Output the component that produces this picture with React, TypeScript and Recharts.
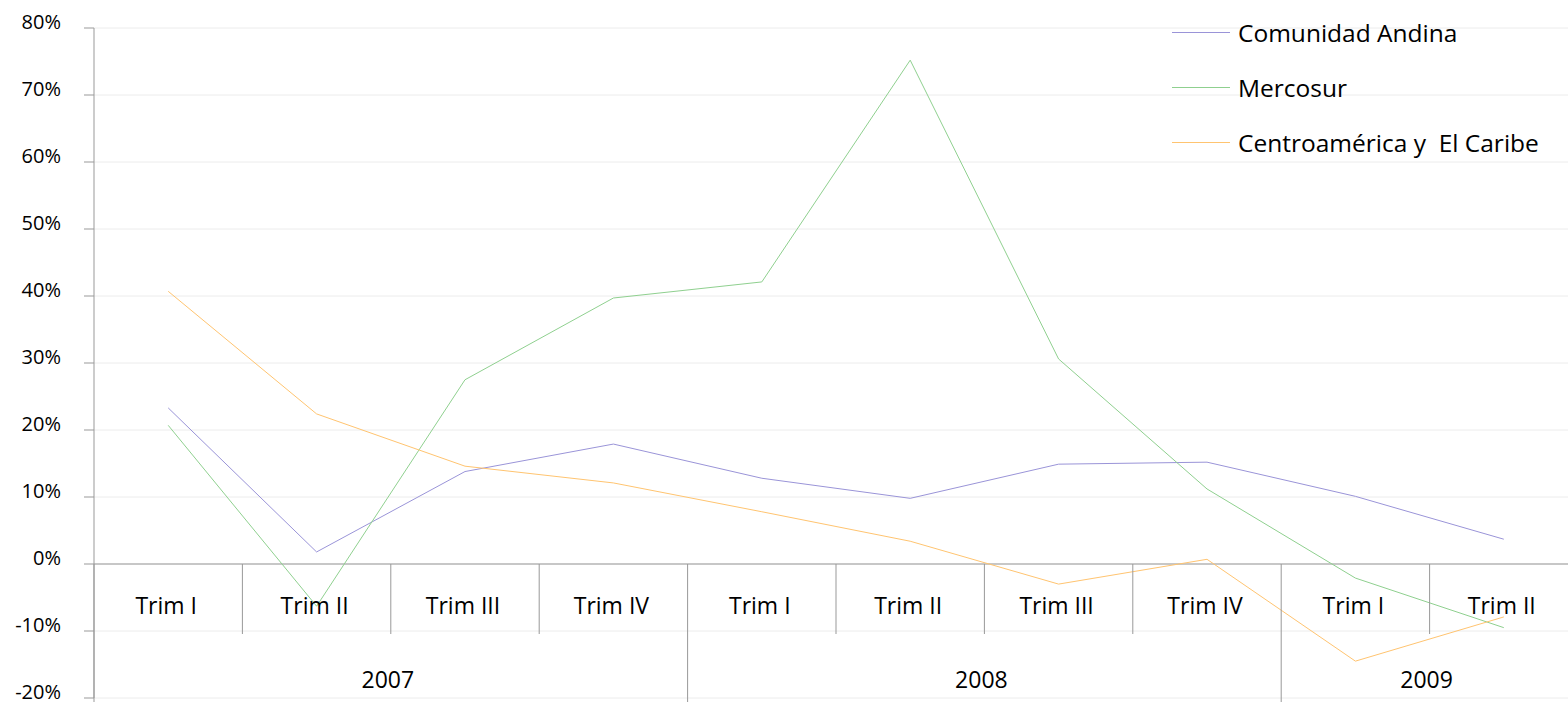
import { LineChart, Line, XAxis, YAxis, CartesianGrid, ReferenceLine } from 'recharts';

const quarters = ['Trim I', 'Trim II', 'Trim III', 'Trim IV', 'Trim I', 'Trim II', 'Trim III', 'Trim IV', 'Trim I', 'Trim II'];
const years = ['2007', '2008', '2009'];
const yearSpan = [4, 4, 2];

const andina = [23.3, 1.8, 13.8, 17.9, 12.8, 9.8, 14.9, 15.2, 10.1, 3.7];
const mercosur = [20.7, -6.3, 27.5, 39.7, 42.1, 75.2, 30.6, 11.2, -2.1, -9.5];
const centro = [40.7, 22.4, 14.6, 12.1, 7.8, 3.4, -3.0, 0.7, -14.5, -7.9];

const yTicks = [-20, -10, 0, 10, 20, 30, 40, 50, 60, 70, 80];

const series = [
  { key: 'andina', name: 'Comunidad Andina', color: '#9a94d8' },
  { key: 'mercosur', name: 'Mercosur', color: '#8fd08f' },
  { key: 'centro', name: 'Centroamérica y  El Caribe', color: '#ffc470' },
];

const data = quarters.map((q, i) => ({
  id: i,
  q,
  andina: andina[i],
  mercosur: mercosur[i],
  centro: centro[i],
}));

// chart geometry
const W = 1578;
const H = 702;
const LEFT = 94;
const TOP = 28;
const BOTTOM = 3;
const XAXIS_H = 1;
const PLOT_W = W - LEFT;
const PLOT_H = H - TOP - BOTTOM - XAXIS_H;
const BAND = PLOT_W / quarters.length;
const ZERO_Y = TOP + (PLOT_H * 80) / 100;
const FONT = '"Open Sans", "Noto Sans", sans-serif';

const yearStarts = yearSpan.map((_, i) => yearSpan.slice(0, i).reduce((a, b) => a + b, 0));

const QuarterTick = (props: any) => {
  const { x, payload } = props;
  const idx = payload.index ?? payload.value;
  const left = x - BAND / 2;
  const yi = yearStarts.indexOf(idx);
  return (
    <g>
      <line x1={left} x2={left} y1={ZERO_Y} y2={yi >= 0 ? H : ZERO_Y + 70} stroke="#999" strokeWidth={1} />
      <text x={x - 2} y={ZERO_Y + 44} textAnchor="middle" dominantBaseline="middle" fontSize={23} fontFamily={FONT} fill="#000">
        {quarters[idx]}
      </text>
      {yi >= 0 && (
        <text
          x={left + (yearSpan[yi] * BAND) / 2 - 3}
          y={ZERO_Y + 118}
          textAnchor="middle"
          dominantBaseline="middle"
          fontSize={23}
          fontFamily={FONT}
          fill="#000"
        >
          {years[yi]}
        </text>
      )}
    </g>
  );
};

const YTick = (props: any) => {
  const { x, y, payload } = props;
  return (
    <text x={x} y={y - 4} textAnchor="end" dominantBaseline="middle" fontSize={20} fontFamily={FONT} fill="#000">
      {`${payload.value}%`}
    </text>
  );
};

const App = () => {
  return (
    <div style={{ position: 'fixed', left: 0, top: 0, width: 1568, height: 702, overflow: 'hidden', background: '#fff' }}>
      <LineChart width={W} height={H} data={data} margin={{ top: TOP, right: 0, bottom: BOTTOM, left: 0 }}>
        <CartesianGrid vertical={false} stroke="#ececec" />
        <XAxis
          dataKey="id"
          height={XAXIS_H}
          axisLine={false}
          tickLine={false}
          interval={0}
          padding={{ left: BAND / 2, right: BAND / 2 }}
          tick={<QuarterTick />}
        />
        <YAxis
          width={LEFT}
          domain={[-20, 80]}
          ticks={yTicks}
          interval={0}
          tickSize={10}
          tickMargin={23}
          stroke="#999"
          tick={<YTick />}
        />
        <ReferenceLine y={0} stroke="#999" />
        {series.map((s) => (
          <Line
            key={s.key}
            type="linear"
            dataKey={s.key}
            name={s.name}
            stroke={s.color}
            strokeWidth={1}
            dot={false}
            isAnimationActive={false}
          />
        ))}
      </LineChart>
      <div style={{ position: 'absolute', left: 1172, top: 5, fontFamily: FONT, fontSize: 24.5, color: '#000' }}>
        {series.map((s) => (
          <div key={s.key} style={{ display: 'flex', alignItems: 'center', height: 55, whiteSpace: 'pre' }}>
            <div style={{ width: 58, height: 1, background: s.color, marginRight: 8 }} />
            <span>{s.name}</span>
          </div>
        ))}
      </div>
    </div>
  );
};

export default App;
